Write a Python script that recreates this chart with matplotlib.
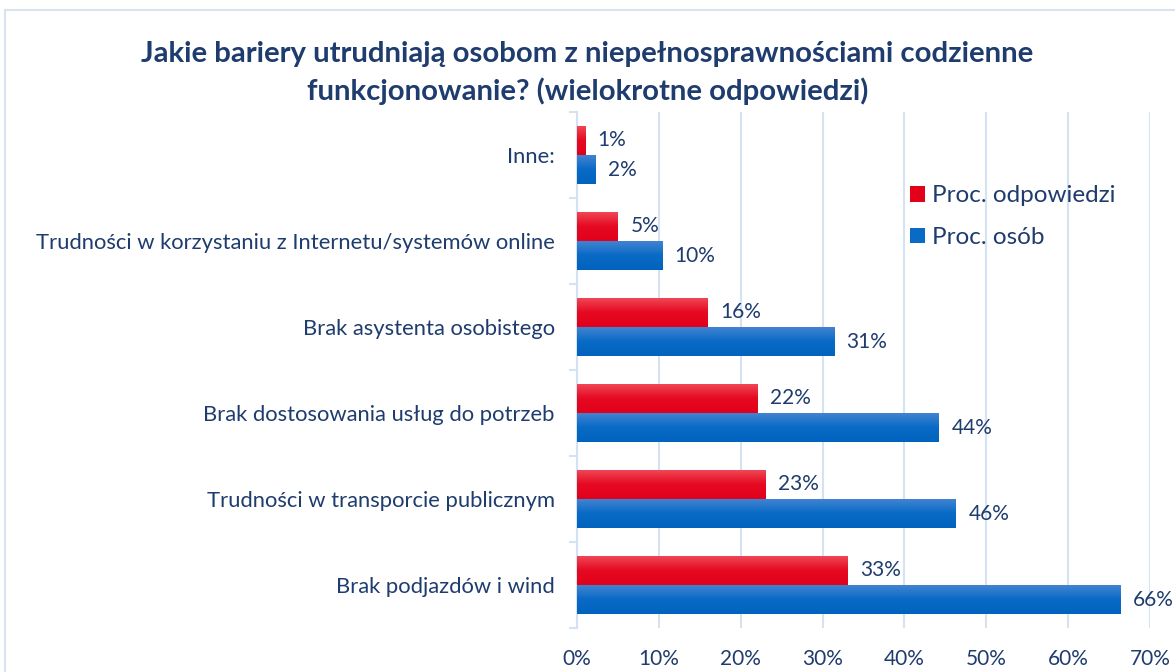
import matplotlib.pyplot as plt
import matplotlib.patches as mpatches
from matplotlib.colors import LinearSegmentedColormap
import numpy as np

plt.rcParams['font.family'] = ['Lato', 'DejaVu Sans']

categories = ['Brak podjazdów i wind',
              'Trudności w transporcie publicznym',
              'Brak dostosowania usług do potrzeb',
              'Brak asystenta osobistego',
              'Trudności w korzystaniu z Internetu/systemów online',
              'Inne:']
proc_odp = [33.1, 23.0, 22.0, 16.0, 5.0, 1.0]
proc_osob = [66.4, 46.3, 44.2, 31.4, 10.4, 2.2]

txt = '#1F3C6E'
red = '#E2001A'
blue = '#0A6BC6'
grid = '#D5E2F2'

fig = plt.figure(figsize=(11.75, 6.72), dpi=100)
ax = fig.add_axes([577/1175, 1-628/672, (1150-577)/1175, (628-112)/672])

y = np.arange(len(categories))
h = 0.34
b1 = ax.barh(y + h/2, proc_odp, height=h, color=red, label='Proc. odpowiedzi', zorder=3)
b2 = ax.barh(y - h/2, proc_osob, height=h, color=blue, label='Proc. osób', zorder=3)

# vertical gradient on each bar, lighter at top
grad = np.linspace(0, 1, 50).reshape(-1, 1)
cmaps = {red: LinearSegmentedColormap.from_list('r', ['#E2001A', '#E60A22', '#F04A58']),
         blue: LinearSegmentedColormap.from_list('b', ['#0063BE', '#0A6BC6', '#4585D2'])}
for bars, c in ((b1, red), (b2, blue)):
    for bar in bars:
        x0, y0, w, hh = bar.get_x(), bar.get_y(), bar.get_width(), bar.get_height()
        im = ax.imshow(grad, extent=(x0, x0 + w, y0, y0 + hh), origin='lower',
                       aspect='auto', cmap=cmaps[c], zorder=4)
        im.set_clip_path(bar)

for bars, vals in ((b1, proc_odp), (b2, proc_osob)):
    for bar, v in zip(bars, vals):
        ax.annotate(f'{v:.0f}%', (bar.get_width(), bar.get_y() + bar.get_height()/2),
                    xytext=(9, 0), textcoords='offset points', va='center', ha='left',
                    fontsize=15, color=txt)

ax.set_xlim(0, 70)
ax.set_ylim(-0.5, len(categories) - 0.5)
ax.set_xticks(range(0, 71, 10))
ax.set_xticklabels([f'{t}%' for t in range(0, 71, 10)])
ax.set_yticks(y)
ax.set_yticklabels(categories)
ax.tick_params(axis='y', length=0, pad=16, labelsize=15.8, labelcolor=txt)
ax.tick_params(axis='x', length=0, pad=15, labelsize=15, labelcolor=txt)
ax.set_yticks(np.arange(-0.5, len(categories), 1), minor=True)
ax.tick_params(axis='y', which='minor', length=6, color=grid, width=1.5)
ax.grid(axis='x', color=grid, linewidth=1.5, zorder=0)
for s in ('top', 'right', 'bottom'):
    ax.spines[s].set_visible(False)
ax.spines['left'].set_color(grid)
ax.spines['left'].set_linewidth(1.5)

ax.legend(loc='upper left', bbox_to_anchor=(0.543, 0.9), frameon=False,
          fontsize=17.5, labelcolor=txt, handlelength=0.6, handleheight=0.6,
          handletextpad=0.3, labelspacing=0.85)

fig.text(0.5, 1-73/672, 'Jakie bariery utrudniają osobom z niepełnosprawnościami codzienne\nfunkcjonowanie? (wielokrotne odpowiedzi)',
         ha='center', va='center', fontsize=21.2, fontweight='bold', color=txt, linespacing=1.5)

fig.patches.append(mpatches.Rectangle((5/1175, -0.01), 1.02, 1-10/672 + 0.01, transform=fig.transFigure,
                                      fill=False, edgecolor='#D9E3EF', linewidth=1.5))

fig.savefig('out.png', dpi=100)
